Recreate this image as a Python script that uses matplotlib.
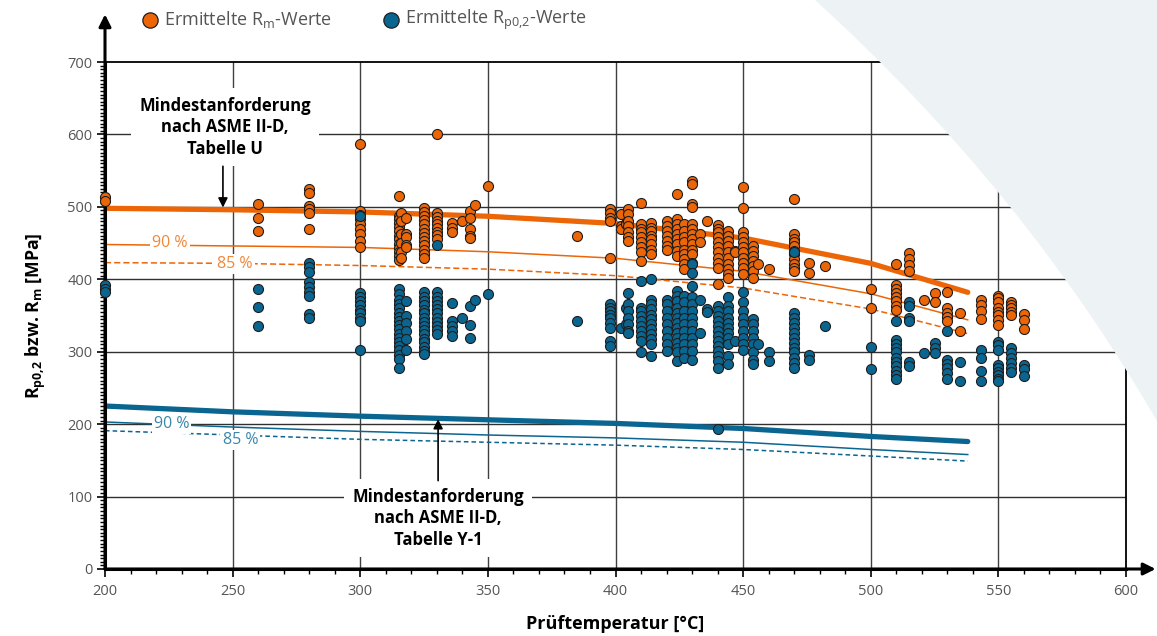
import numpy as np
import matplotlib
matplotlib.use('Agg')
import matplotlib.pyplot as plt
from matplotlib.patches import PathPatch
from matplotlib.path import Path
from matplotlib.ticker import MultipleLocator

# %%
# Ermittelte Rm-Werte, spaltenweise je Prüftemperatur
rm_temps = [200, 260, 280, 300, 315, 316, 318, 325, 330, 336, 340, 343, 345, 350,
            385, 398, 402, 404, 405, 410, 414, 420, 424, 427, 430, 433, 436, 440,
            444, 447, 450, 454, 456, 460, 470, 476, 482,
            500, 510, 515, 521, 525, 530, 535, 543, 550, 555, 560]
rm_vals = [[513, 508], [504, 484, 467], [524, 519, 501, 497, 492, 469],
           [587, 494, 489, 483, 476, 470, 463, 453, 444],
           [515, 488, 483, 478, 472, 466, 460, 455, 449, 443, 437, 432, 426],
           [491, 480, 463, 450, 438, 430],
           [484, 463, 458, 448, 444],
           [498, 493, 487, 482, 476, 470, 464, 458, 453, 447, 441, 435, 429],
           [600, 491, 486, 481, 477, 471, 465, 461, 455],
           [478, 471, 465], [481], [494, 484, 469, 460, 457], [502], [529],
           [460], [497, 492, 485, 481, 430], [490, 474, 469], [478, 476],
           [497, 490, 481, 474, 465, 458, 453],
           [505, 476, 469, 465, 458, 451, 444, 437, 425],
           [478, 471, 467, 460, 455, 449, 441, 435],
           [481, 474, 467, 460, 453, 446, 441],
           [518, 483, 476, 469, 462, 455, 449, 439, 432],
           [476, 467, 458, 451, 441, 435, 428, 421, 414],
           [536, 531, 504, 500, 476, 469, 462, 455, 449, 441, 435, 423],
           [462, 451], [480],
           [475, 470, 465, 458, 451, 444, 437, 430, 423, 416, 393],
           [467, 460, 453, 446, 437, 430, 421, 414, 407, 402],
           [439, 437],
           [527, 498, 465, 458, 451, 444, 437, 430, 423, 416, 407],
           [446, 439, 432, 425, 418, 411, 402],
           [421], [414],
           [511, 462, 455, 451, 446, 439, 435, 428, 421, 416, 411],
           [422, 409], [418],
           [386, 360], [421, 392, 386, 381, 375, 370, 363, 357], [436, 428, 420, 412],
           [371], [381, 369], [383, 360, 354, 348, 342], [354, 329],
           [371, 365, 356, 345], [377, 374, 368, 360, 355, 351, 344, 337],
           [369, 365, 360, 355, 351], [352, 344, 331]]

# Ermittelte Rp0,2-Werte
rp_temps = [200, 260, 280, 300, 315, 318, 325, 330, 336, 340, 343, 345, 350,
            385, 398, 402, 404, 405, 410, 414, 420, 424, 427, 430, 433, 436, 440,
            444, 447, 450, 454, 456, 460, 470, 476, 482,
            500, 510, 515, 521, 525, 530, 535, 543, 550, 555, 560]
rp_vals = [[392, 387, 382], [386, 362, 335],
           [422, 417, 410, 396, 390, 383, 377, 352, 346],
           [488, 381, 376, 370, 365, 358, 353, 347, 342, 303],
           [386, 379, 372, 366, 361, 354, 348, 342, 337, 331, 325, 319, 314, 308, 302, 296, 290, 277],
           [370, 350, 340, 329, 317, 303],
           [382, 376, 370, 364, 358, 353, 347, 341, 336, 330, 324, 318, 313, 307, 301, 297],
           [448, 382, 376, 370, 364, 359, 353, 347, 341, 336, 330, 325],
           [367, 342, 335, 329, 322], [347], [363, 337, 319], [372], [379],
           [342], [366, 361, 356, 351, 347, 340, 333, 315, 308], [333], [361, 338],
           [381, 366, 356, 347, 338, 329, 326],
           [398, 361, 356, 350, 343, 336, 329, 322, 315, 299],
           [400, 372, 366, 359, 351, 345, 338, 331, 324, 317, 310, 294],
           [372, 366, 356, 347, 338, 329, 319, 310, 301],
           [384, 377, 370, 361, 354, 347, 340, 333, 326, 319, 312, 305, 299, 287],
           [377, 368, 356, 347, 338, 329, 319, 310, 301, 292],
           [421, 409, 391, 375, 366, 356, 347, 338, 329, 319, 310, 301, 289],
           [372, 326], [359, 355],
           [363, 356, 350, 343, 336, 329, 322, 315, 308, 301, 294, 287, 278, 193],
           [375, 363, 356, 347, 340, 333, 326, 319, 310, 294, 283],
           [315],
           [382, 368, 356, 347, 338, 329, 319, 310, 303],
           [345, 338, 329, 319, 310, 299, 289, 283],
           [310], [299, 287],
           [437, 354, 347, 340, 333, 326, 319, 312, 305, 299, 292, 285, 278],
           [296, 289], [335],
           [307, 276], [342, 316, 311, 305, 299, 292, 286, 280, 274, 268, 262],
           [369, 363, 346, 342, 286, 280], [298], [312, 305, 298],
           [328, 289, 283, 277, 270, 263], [286, 260], [302, 291, 274, 260],
           [314, 309, 302, 281, 277, 272, 268, 263, 259],
           [305, 298, 291, 284, 277, 272], [282, 276, 266]]

# Mindestanforderungen nach ASME II-D
asme_temps = [200, 250, 300, 350, 400, 450, 500, 538]
rm_min = [498, 496, 493, 487, 477, 457, 422, 382]
rm_90 = [448, 446, 444, 438, 429, 411, 380, 344]
rm_85 = [423, 422, 419, 414, 405, 388, 359, 325]
rp_min = [225, 217, 211, 206, 201, 194, 183, 176]
rp_90 = [203, 196, 190, 185, 181, 175, 165, 158]
rp_85 = [191, 185, 179, 175, 171, 165, 156, 149]

# %%
plt.rcParams['font.family'] = ['Open Sans', 'DejaVu Sans']
plt.rcParams['mathtext.fontset'] = 'custom'
plt.rcParams['mathtext.rm'] = 'Open Sans'
plt.rcParams['mathtext.bf'] = 'Open Sans:bold'

orange = '#EC6608'
blue = '#0A6690'
orange_txt = '#F0883A'
blue_txt = '#3A87AC'
grey_txt = '#555555'

W, H = 1157, 636
fig = plt.figure(figsize=(W / 100, H / 100), dpi=100)


def fpt(x, y):
    # pixel position -> figure fraction
    return (x / W, 1 - y / H)


# decorative background shape top right
bg_path = Path([fpt(815, 0), fpt(1022, 188), fpt(1157, 421), fpt(1157, 0), fpt(815, 0)],
               [Path.MOVETO, Path.CURVE3, Path.CURVE3, Path.LINETO, Path.CLOSEPOLY])
fig.patches.append(PathPatch(bg_path, transform=fig.transFigure, facecolor='#EDF2F5',
                             edgecolor='none', zorder=0))

ax = fig.add_axes([105 / W, 67 / H, 1021 / W, 507 / H])
ax.set_facecolor('none')
ax.set_xlim(200, 600)
ax.set_ylim(0, 700)

# grid
for xv in range(250, 600, 50):
    ax.axvline(xv, color='#404040', lw=1, zorder=1)
for yv in range(100, 700, 100):
    ax.axhline(yv, color='#303030', lw=1, zorder=1)

for s in ['top', 'right']:
    ax.spines[s].set_linewidth(1.3)
    ax.spines[s].set_color('black')
for s in ['left', 'bottom']:
    ax.spines[s].set_linewidth(2.2)

ax.xaxis.set_major_locator(MultipleLocator(50))
ax.xaxis.set_minor_locator(MultipleLocator(10))
ax.yaxis.set_major_locator(MultipleLocator(100))
ax.yaxis.set_minor_locator(MultipleLocator(5))
ax.tick_params(which='major', direction='out', length=6, width=1.2, colors='black',
               labelcolor=grey_txt, labelsize=10.5)
ax.tick_params(which='minor', direction='out', length=3.5, width=1)
ax.tick_params(axis='x', which='major', pad=5)
ax.tick_params(axis='y', which='major', pad=3)
ax.tick_params(top=False, right=False, which='both')

# axis arrows
ax.annotate('', xy=(0, 1.094), xytext=(0, 0), xycoords='axes fraction',
            arrowprops=dict(arrowstyle='-|>', lw=2.2, color='black', mutation_scale=18,
                            shrinkA=0, shrinkB=0), annotation_clip=False)
ax.annotate('', xy=(1.029, 0), xytext=(0, 0), xycoords='axes fraction',
            arrowprops=dict(arrowstyle='-|>', lw=2.2, color='black', mutation_scale=18,
                            shrinkA=0, shrinkB=0), annotation_clip=False)

# ASME curves
ax.plot(asme_temps, rm_min, color=orange, lw=3.8, solid_capstyle='round', zorder=2)
ax.plot(asme_temps, rm_90, color=orange, lw=1.1, zorder=2)
ax.plot(asme_temps, rm_85, color=orange, lw=1.1, ls=(0, (4, 2)), zorder=2)
ax.plot(asme_temps, rp_min, color=blue, lw=3.8, solid_capstyle='round', zorder=2)
ax.plot(asme_temps, rp_90, color=blue, lw=1.1, zorder=2)
ax.plot(asme_temps, rp_85, color=blue, lw=1.1, ls=(0, (3, 2)), zorder=2)

# measured values
rm_x = [t for t, vs in zip(rm_temps, rm_vals) for v in vs]
rm_y = [v for t, vs in zip(rm_temps, rm_vals) for v in vs]
rp_x = [t for t, vs in zip(rp_temps, rp_vals) for v in vs]
rp_y = [v for t, vs in zip(rp_temps, rp_vals) for v in vs]
ax.scatter(rm_x, rm_y, s=52, color=orange, edgecolor='#1e1e1e', linewidth=0.8,
           zorder=3, clip_on=False)
ax.scatter(rp_x, rp_y, s=52, color=blue, edgecolor='#1e1e1e', linewidth=0.8,
           zorder=4, clip_on=False)

# percent labels
wbox = dict(facecolor='white', edgecolor='none', pad=1.5)
ax.text(225.5, 450, '90 %', color=orange_txt, fontsize=11.5, ha='center', va='center',
        bbox=wbox, zorder=2.5)
ax.text(251, 421, '85 %', color=orange_txt, fontsize=11.5, ha='center', va='center',
        bbox=wbox, zorder=2.5)
ax.text(226, 200, '90 %', color=blue_txt, fontsize=11.5, ha='center', va='center',
        bbox=wbox, zorder=2.5)
ax.text(253, 178, '85 %', color=blue_txt, fontsize=11.5, ha='center', va='center',
        bbox=wbox, zorder=2.5)

# annotations for minimum requirements
ax.text(247, 610, 'Mindestanforderung\nnach ASME II-D,\nTabelle U', fontsize=12,
        fontweight='bold', ha='center', va='center', linespacing=1.25,
        bbox=dict(facecolor='white', edgecolor='none', pad=6), zorder=5)
ax.annotate('', xy=(246.2, 499), xytext=(246.2, 556),
            arrowprops=dict(arrowstyle='-|>', lw=1.2, color='black', mutation_scale=14,
                            shrinkA=0, shrinkB=0), zorder=5)
ax.text(330.5, 70, 'Mindestanforderung\nnach ASME II-D,\nTabelle Y-1', fontsize=12,
        fontweight='bold', ha='center', va='center', linespacing=1.25,
        bbox=dict(facecolor='white', edgecolor='none', pad=6), zorder=5)
ax.annotate('', xy=(330.5, 207), xytext=(330.5, 122),
            arrowprops=dict(arrowstyle='-|>', lw=1.2, color='black', mutation_scale=14,
                            shrinkA=0, shrinkB=0), zorder=5)

ax.set_xlabel('Prüftemperatur [°C]', fontsize=13, fontweight='bold', labelpad=11)
ax.set_ylabel(r'R$_\mathbf{p0{,}2}$ bzw. R$_\mathbf{m}$ [MPa]', fontsize=12.7,
              fontweight='bold', labelpad=14)

# legend on top
fig.add_artist(plt.Line2D([150 / W], [1 - 20 / H], marker='o', markersize=11,
                          color=orange, markeredgecolor='#1e1e1e', markeredgewidth=0.9,
                          transform=fig.transFigure))
fig.text(164 / W, 1 - 20 / H, r'Ermittelte R$_\mathrm{m}$-Werte', fontsize=13,
         color=grey_txt, ha='left', va='center')
fig.add_artist(plt.Line2D([391 / W], [1 - 20 / H], marker='o', markersize=11,
                          color=blue, markeredgecolor='#1e1e1e', markeredgewidth=0.9,
                          transform=fig.transFigure))
fig.text(405 / W, 1 - 20 / H, r'Ermittelte R$_\mathrm{p0{,}2}$-Werte', fontsize=13,
         color=grey_txt, ha='left', va='center')

fig.savefig('out.png', dpi=100)
